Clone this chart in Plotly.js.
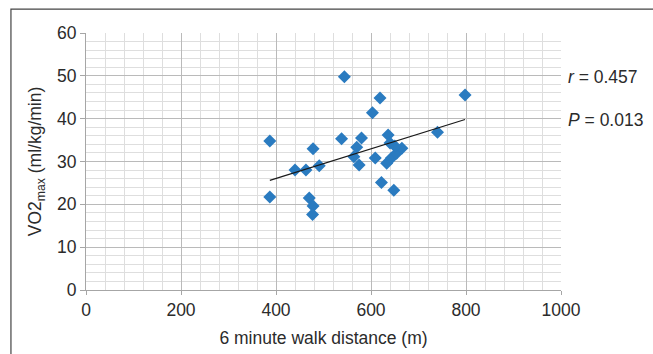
<!DOCTYPE html>
<html><head><meta charset="utf-8">
<script src="https://cdn.plot.ly/plotly-3.0.1.min.js"></script>
<style>html,body{margin:0;padding:0;background:#fff;}#chart{width:653px;height:354px;}</style>
</head><body><div id="chart"></div>
<script>
// Data
const walkDistance = [387, 387, 440, 463, 470, 478, 477, 478, 491, 538, 544, 564, 570, 575, 580, 603, 609, 619, 622, 636, 640, 648, 633, 643, 654, 665, 650, 740, 798];
const vo2max =       [34.8, 21.7, 28.0, 28.0, 21.5, 19.6, 17.6, 33.0, 29.0, 35.3, 49.8, 31.1, 33.3, 29.2, 35.5, 41.4, 30.8, 44.8, 25.1, 36.2, 34.3, 23.3, 29.6, 30.8, 31.9, 33.1, 33.6, 36.8, 45.5];
const trendX = [387, 798];
const trendY = [25.6, 39.8];
const statLabels = ["<i>r</i> = 0.457", "<i>P</i> = 0.013"];
const statY = [49.8, 39.7];

const font = {family: "Liberation Sans, Arial, sans-serif", size: 17.5, color: "#2b2b2b"};

const traces = [
  {x: walkDistance, y: vo2max, mode: "markers", type: "scatter",
   marker: {symbol: "diamond", size: 10, color: "#2a7bc0"}, hoverinfo: "skip"},
  {x: trendX, y: trendY, mode: "lines", type: "scatter",
   line: {color: "#1a1a1a", width: 1.2}, hoverinfo: "skip"}
];

const layout = {
  width: 653, height: 354,
  margin: {l: 86, r: 92, t: 33, b: 64},
  showlegend: false,
  paper_bgcolor: "#fff", plot_bgcolor: "#fff",
  font: font,
  xaxis: {
    range: [0, 1000], dtick: 200, tick0: 0,
    showgrid: true, gridcolor: "#bababa", gridwidth: 1,
    minor: {dtick: 40, showgrid: true, gridcolor: "#dedede", gridwidth: 1},
    showline: true, linecolor: "#a6a6a6", linewidth: 1,
    ticks: "outside", ticklen: 4, tickcolor: "#a6a6a6",
    zeroline: false, tickfont: font,
    title: {text: "6 minute walk distance (m)", font: font, standoff: 12}
  },
  yaxis: {
    range: [0, 60], dtick: 10, tick0: 0,
    showgrid: true, gridcolor: "#bababa", gridwidth: 1,
    minor: {dtick: 2, showgrid: true, gridcolor: "#dedede", gridwidth: 1},
    showline: true, linecolor: "#a6a6a6", linewidth: 1,
    ticks: "outside", ticklen: 5, tickcolor: "#a6a6a6",
    zeroline: false, tickfont: font,
    title: {text: "VO2<sub>max</sub> (ml/kg/min)", font: font, standoff: 10}
  },
  shapes: [
    {type: "rect", xref: "paper", yref: "paper", x0: -0.158, x1: 1.4, y0: -0.6, y1: 1.093,
     line: {color: "#444", width: 1.2}, fillcolor: "rgba(0,0,0,0)", layer: "below"}
  ],
  annotations: statLabels.map((t, i) => ({
    text: t, xref: "paper", yref: "y", x: 1.01, y: statY[i],
    xanchor: "left", yanchor: "middle", showarrow: false, font: font
  }))
};

Plotly.newPlot("chart", traces, layout, {staticPlot: true, displayModeBar: false});
</script></body></html>
